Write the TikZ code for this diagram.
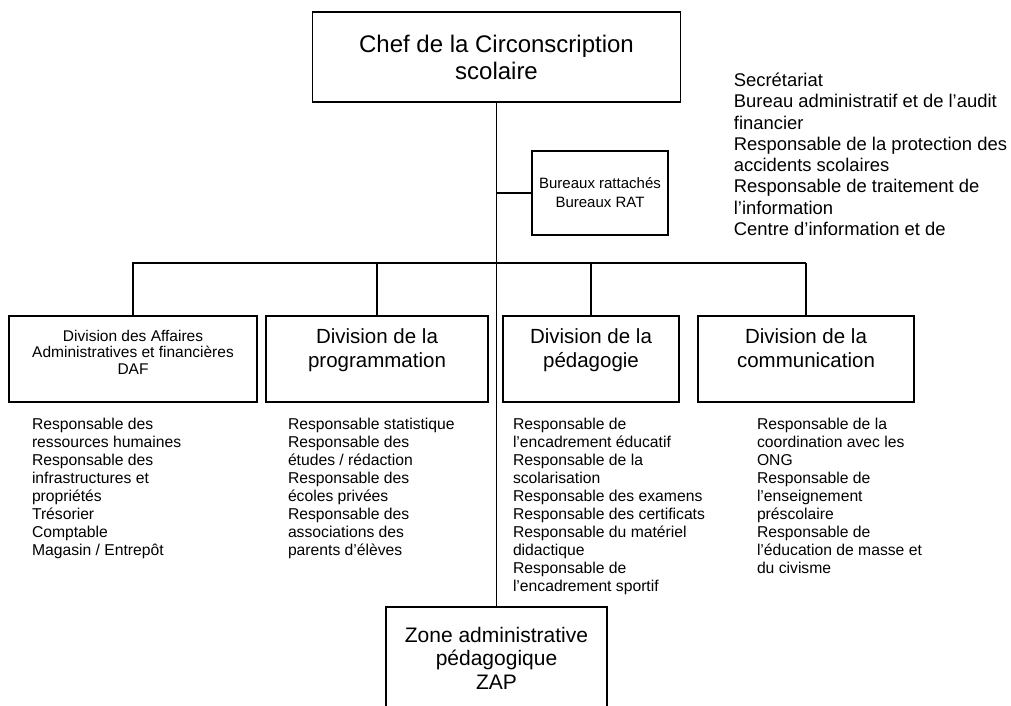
\documentclass[tikz,border=0pt]{standalone}
\usepackage{fontspec}
\setmainfont{Liberation Sans}
\usetikzlibrary{positioning}

\begin{document}
\begin{tikzpicture}[x=1pt, y=-1pt, line width=1.8pt]
    \tikzstyle{chef} = [rectangle, draw, minimum width=368pt, minimum height=90pt, align=center, font=\fontsize{24}{27}\selectfont]
    \tikzstyle{bureau} = [rectangle, draw, minimum width=136pt, minimum height=84pt, align=center, font=\fontsize{15}{19}\selectfont]
    \tikzstyle{division} = [rectangle, draw, minimum height=86pt, align=center, text depth=21pt, font=\fontsize{20.5}{24}\selectfont]
    \tikzstyle{zone} = [rectangle, draw, minimum width=221pt, minimum height=102pt, align=center, font=\fontsize{21}{23.5}\selectfont]
    \tikzstyle{tasks} = [align=left, inner sep=0pt, font=\fontsize{15.7}{18}\selectfont]

    \useasboundingbox (0,0) rectangle (1011,706);

    % Direction
    \node [chef] (chef) at (496.5,57) {Chef de la Circonscription\\scolaire};
    \node [bureau] (rat) at (600,193) {Bureaux rattachés\\Bureaux RAT};
    \node [tasks, anchor=north west, font=\fontsize{18.4}{21.3}\selectfont] (ratlist) at (733,72)
        {Secrétariat\\Bureau administratif et de l’audit\\financier\\Responsable de la protection des\\accidents scolaires\\Responsable de traitement de\\l’information\\Centre d’information et de};

    % Divisions
    \node [division, minimum width=248pt, text depth=14pt, font=\fontsize{15.5}{16.5}\selectfont] (daf) at (133,359) {Division des Affaires\\Administratives et financières\\DAF};
    \node [division, minimum width=222pt] (prog) at (377,359) {Division de la\\programmation};
    \node [division, minimum width=176pt] (ped) at (591,359) {Division de la\\pédagogie};
    \node [division, minimum width=216pt] (comm) at (806,359) {Division de la\\communication};

    % Responsables
    \node [tasks, below right=14pt and 23pt of daf.south west] (daflist)
        {Responsable des\\ressources humaines\\Responsable des\\infrastructures et\\propriétés\\Trésorier\\Comptable\\Magasin / Entrepôt};
    \node [tasks, below right=14pt and 22pt of prog.south west] (proglist)
        {Responsable statistique\\Responsable des\\études / rédaction\\Responsable des\\écoles privées\\Responsable des\\associations des\\parents d’élèves};
    \node [tasks, below right=14pt and 10pt of ped.south west] (pedlist)
        {Responsable de\\l’encadrement éducatif\\Responsable de la\\scolarisation\\Responsable des examens\\Responsable des certificats\\Responsable du matériel\\didactique\\Responsable de\\l’encadrement sportif};
    \node [tasks, below right=14pt and 59pt of comm.south west] (commlist)
        {Responsable de la\\coordination avec les\\ONG\\Responsable de\\l’enseignement\\préscolaire\\Responsable de\\l’éducation de masse et\\du civisme};

    % Zone
    \node [zone] (zap) at (496.5,658) {Zone administrative\\pédagogique\\ZAP};

    % Lines
    \coordinate (bus) at (0,263);
    \draw (chef) -- (zap);
    \draw (rat.west) -- (rat.west -| chef.south);
    \draw (daf.north) |- (comm.north |- bus);
    \draw (prog.north) -- (prog.north |- bus);
    \draw (ped.north) -- (ped.north |- bus);
    \draw (comm.north) -- (comm.north |- bus);
\end{tikzpicture}
\end{document}
